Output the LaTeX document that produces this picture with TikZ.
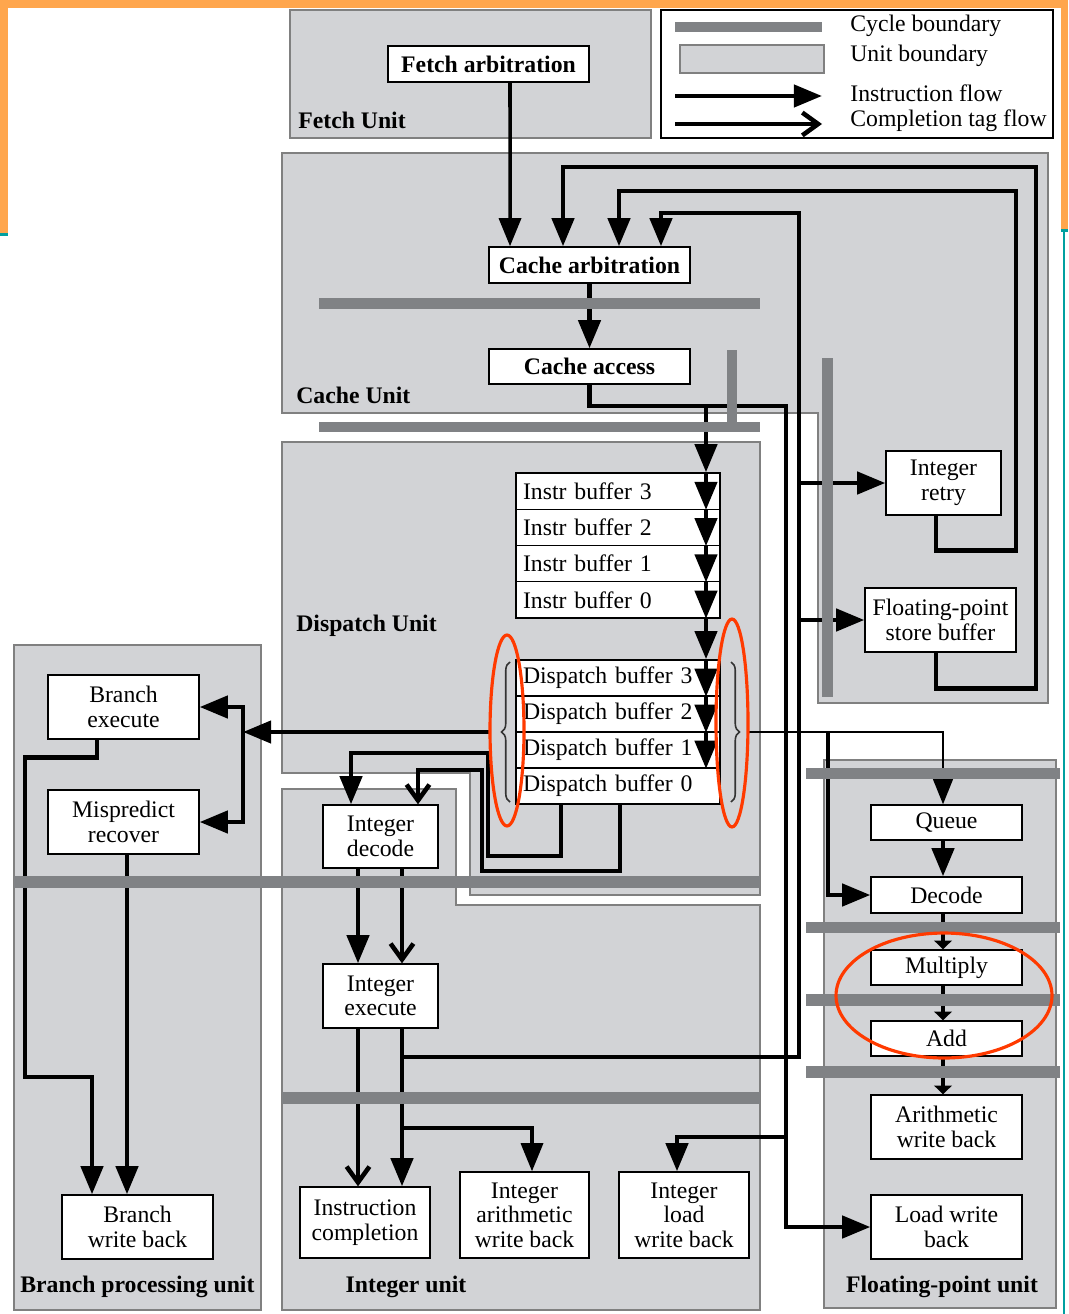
\documentclass[tikz,border=0pt]{standalone}
\usepackage{fontspec}
\setmainfont{Liberation Serif}
\usetikzlibrary{arrows.meta,decorations.pathreplacing}
\definecolor{unitgray}{RGB}{210,211,214}
\definecolor{unitedge}{RGB}{128,128,128}
\definecolor{cyclegray}{RGB}{128,130,133}
\definecolor{markred}{RGB}{255,58,0}
\definecolor{frameorange}{RGB}{255,166,77}
\definecolor{frameteal}{RGB}{0,160,160}

\begin{document}
\begin{tikzpicture}[x=0.02cm, y=-0.02cm,
  every node/.style={font=\fontsize{13.5}{14}\selectfont},
  bold/.style={font=\fontsize{13.5}{14}\selectfont\bfseries},
  unit/.style={fill=unitgray, draw=unitedge, line width=1pt},
  stage/.style={draw, fill=white, line width=0.8pt, align=center, inner sep=0pt},
  buf/.style={draw, fill=white, line width=0.8pt, minimum height=0.725cm, text width=3.8cm, inner xsep=0.14cm, inner ysep=0pt, align=left},
  lbl/.style={inner sep=0pt},
  flow/.style={line width=2.6pt, -{Triangle[length=16pt,width=12.5pt]}},
  tag/.style={line width=2.6pt, -{Straight Barb[length=9pt,width=13pt]}},
  short/.style={line width=2.6pt, -{Triangle[length=5pt,width=10pt]}},
  cyclebar/.style={fill=cyclegray},
  bracemark/.style={black!80, line width=0.9pt, decorate, decoration={brace, amplitude=0.17cm}},
  redmark/.style={draw=markred, line width=1.8pt}]
	\useasboundingbox (0,0) rectangle (1068,1314);
	\fill[white] (0,0) rectangle (1068,1314);
	\fill[frameorange] (0,0) rectangle (1068,8);
	\fill[frameorange] (0,0) rectangle (8,233);
	\fill[frameorange] (1061,0) rectangle (1068,229);
	\fill[frameteal] (0,233) rectangle (8,236);
	\fill[frameteal] (1061,229) rectangle (1068,232);
	\draw[frameteal, line width=1pt] (1064,232) -- (1064,1314);

	\draw[unit] (290,10) rectangle (651,138);
	\draw[unit] (282,153) -- (1048,153) -- (1048,703) -- (818,703) -- (818,413) -- (282,413) -- cycle;
	\draw[unit] (282,442) -- (760,442) -- (760,895) -- (470,895) -- (470,773) -- (282,773) -- cycle;
	\draw[unit] (282,789) -- (456,789) -- (456,905) -- (760,905) -- (760,1310) -- (282,1310) -- cycle;
	\draw[unit] (14,645) rectangle (261,1310);
	\draw[unit] (824,760) rectangle (1056,1308);

	\draw[line width=1pt] (661,10) rectangle (1053,138);
	\fill[cyclegray] (675,22) rectangle (822,32);
	\draw[unit] (680,45) rectangle (824,73);
	\draw[flow] (675,96) -- (822,96);
	\draw[tag] (675,124) -- (822,124);
	\node[lbl, anchor=west] (lgcycle) at (850,26) {Cycle boundary};
	\node[lbl, anchor=west] (lgunit) at (850,56) {Unit boundary};
	\node[lbl, anchor=west] (lginstr) at (850,93) {Instruction flow};
	\node[lbl, anchor=west] (lgtag) at (850,121) {Completion tag flow};

	\node[lbl, bold, anchor=west] (fetchlbl) at (298,120) {Fetch Unit};
	\node[lbl, bold, anchor=west] (cachelbl) at (296,395) {Cache Unit};
	\node[lbl, bold, anchor=west] (displbl) at (296,626) {Dispatch Unit};
	\node[lbl, bold, anchor=west] (branchlbl) at (20,1287) {Branch processing unit};
	\node[lbl, bold] (intlbl) at (406,1287) {Integer unit};
	\node[lbl, bold] (fplbl) at (942,1287) {Floating-point unit};

	\node[stage, bold, minimum width=4.02cm, minimum height=0.72cm] (fetcharb) at (488.5,64) {Fetch arbitration};
	\node[stage, bold, minimum width=4.02cm, minimum height=0.72cm] (carb) at (589.5,265) {Cache arbitration};
	\node[stage, bold, minimum width=4.02cm, minimum height=0.70cm] (cacc) at (589.5,366.5) {Cache access};
	\node[stage, minimum width=2.3cm, minimum height=1.28cm] (iretry) at (943.5,483) {Integer\\retry};
	\node[stage, minimum width=3.02cm, minimum height=1.28cm] (fpsb) at (940.5,620) {Floating-point\\store buffer};
	\foreach \i/\y in {3/491.1, 2/527.4, 1/563.6, 0/599.9}
		\node[buf] (ibuf\i) at (618,\y) {Instr buffer \i};
	\foreach \i/\y in {3/678, 2/714, 1/750, 0/786}
		\node[buf] (dbuf\i) at (618,\y) {Dispatch buffer \i};
	\node[stage, minimum width=3.02cm, minimum height=1.28cm] (bexec) at (123.5,707) {Branch\\execute};
	\node[stage, minimum width=3.02cm, minimum height=1.28cm] (mispred) at (123.5,822) {Mispredict\\recover};
	\node[stage, minimum width=3.02cm, minimum height=1.28cm] (bwb) at (137.5,1227) {Branch\\write back};
	\node[stage, minimum width=2.3cm, minimum height=1.26cm] (idec) at (380.5,836.5) {Integer\\decode};
	\node[stage, minimum width=2.3cm, minimum height=1.28cm] (iexec) at (380.5,996) {Integer\\execute};
	\node[stage, minimum width=2.6cm, minimum height=1.42cm] (icomp) at (365,1222.5) {Instruction\\completion};
	\node[stage, minimum width=2.58cm, minimum height=1.72cm] (iawb) at (524.5,1215) {Integer\\arithmetic\\write back};
	\node[stage, minimum width=2.6cm, minimum height=1.72cm] (ilwb) at (684,1215) {Integer\\load\\write back};
	\node[stage, minimum width=3.02cm, minimum height=0.70cm] (queue) at (946.5,822.5) {Queue};
	\node[stage, minimum width=3.02cm, minimum height=0.72cm] (fdec) at (946.5,895) {Decode};
	\node[stage, minimum width=3.02cm, minimum height=0.70cm] (fmul) at (946.5,967.5) {Multiply};
	\node[stage, minimum width=3.02cm, minimum height=0.70cm] (fadd) at (946.5,1038.5) {Add};
	\node[stage, minimum width=3.02cm, minimum height=1.28cm] (awb) at (946.5,1127) {Arithmetic\\write back};
	\node[stage, minimum width=3.02cm, minimum height=1.28cm] (lwb) at (946.5,1227) {Load write\\back};

	\coordinate (iq) at (706,406);
	\coordinate (cj) at (786,406);
	\coordinate (lj) at (786,1137);
	\coordinate (xj) at (402,1057);
	\coordinate (aj) at (402,1128);
	\coordinate (rj) at (799,487);
	\coordinate (lb) at (490,732);
	\coordinate (bj) at (243,732);
	\coordinate (rb) at (748,732);
	\coordinate (fj) at (828,732);

	\draw[flow, line width=2pt] ([xshift=0.43cm]fetcharb.south) -- ([xshift=-1.59cm]carb.north);
	\draw[flow] ([xshift=-0.09cm]fpsb.south) -- ++(0,36) -| (1036,167) -| ([xshift=-0.53cm]carb.north);
	\draw[flow] ([xshift=-0.15cm]iretry.south) -- ++(0,35) -| (1016,191) -| ([xshift=0.59cm]carb.north);
	\draw[flow] (xj) -| (799,213) -| ([xshift=1.43cm]carb.north);
	\draw[flow] (rj |- iretry.west) -- (iretry.west);
	\draw[flow] (rj |- fpsb.west) -- (fpsb.west);
	\draw[flow] (carb.south) -- (cacc.north);
	\draw[flow] (cacc.south) |- (cj) |- (lwb.west);
	\draw[flow] (lj) -| ([xshift=-0.14cm]ilwb.north);

	\draw[flow] (iq) -- (iq |- ibuf3.north);
	\foreach \b in {ibuf3,ibuf2,ibuf1,ibuf0,dbuf3,dbuf2,dbuf1}
		\draw[flow] (iq |- \b.north) -- (iq |- \b.south);
	\draw[flow] (iq |- ibuf0.south) -- (iq |- dbuf3.north);

	\draw[flow] (lb) -- (bj);
	\draw[flow] (bj) |- (bexec.east);
	\draw[flow] (bj) |- (mispred.east);
	\draw[flow] ([xshift=-0.53cm]bexec.south) -- ++(0,18) -| (25,1077) -| ([xshift=-0.91cm]bwb.north);
	\draw[flow] ([xshift=0.07cm]mispred.south) -- ([xshift=0.07cm]mispred.south |- bwb.north);

	\draw[flow] ([xshift=-1.14cm]dbuf0.south) -- ++(0,51) -| (488,753) -| ([xshift=-0.59cm]idec.north);
	\draw[tag] ([xshift=0.04cm]dbuf0.south) -- ++(0,66) -| (482,770) -| ([xshift=0.75cm]idec.north);
	\draw[flow] ([xshift=-0.45cm]idec.south) -- ([xshift=-0.45cm]iexec.north);
	\draw[tag] ([xshift=0.43cm]idec.south) -- ([xshift=0.43cm]iexec.north);
	\draw[tag] ([xshift=-0.45cm]iexec.south) -- ([xshift=-0.45cm]iexec.south |- icomp.north);
	\draw[flow] ([xshift=0.43cm]iexec.south) -- ([xshift=0.43cm]iexec.south |- icomp.north);
	\draw[flow, line width=2pt] (aj) -| ([xshift=0.15cm]iawb.north);

	\draw[flow, line width=1.4pt] (rb) -| ([xshift=-0.07cm]queue.north);
	\draw[flow] (fj) |- (fdec.west);
	\draw[flow] ([xshift=-0.07cm]queue.south) -- ([xshift=-0.07cm]fdec.north);
	\draw[short] ([xshift=-0.07cm]fdec.south) -- ([xshift=-0.07cm]fmul.north);
	\draw[short] ([xshift=-0.07cm]fmul.south) -- ([xshift=-0.07cm]fadd.north);
	\draw[short] ([xshift=-0.07cm]fadd.south) -- ([xshift=-0.07cm]awb.north);

	\fill[cyclegray] (319,298) rectangle (760,309);
	\fill[cyclegray] (319,422) rectangle (760,432);
	\fill[cyclegray] (727,350) rectangle (737,425);
	\fill[cyclegray] (822,358) rectangle (833,697);
	\fill[cyclegray] (14,876) rectangle (760,888);
	\fill[cyclegray] (282,1092) rectangle (760,1104);
	\fill[cyclegray] (806,768) rectangle (1060,779);
	\fill[cyclegray] (806,922) rectangle (1060,933);
	\fill[cyclegray] (806,994) rectangle (1060,1006);
	\fill[cyclegray] (806,1066) rectangle (1060,1078);

	\draw[bracemark] (510,802) -- (510,662);
	\draw[bracemark] (731,662) -- (731,802);

	\draw[redmark] (507,730.5) ellipse [x radius=0.34cm, y radius=1.91cm];
	\draw[redmark] (732,723) ellipse [x radius=0.32cm, y radius=2.08cm];
	\draw[redmark] (944,995.5) ellipse [x radius=2.16cm, y radius=1.25cm];
\end{tikzpicture}
\end{document}
